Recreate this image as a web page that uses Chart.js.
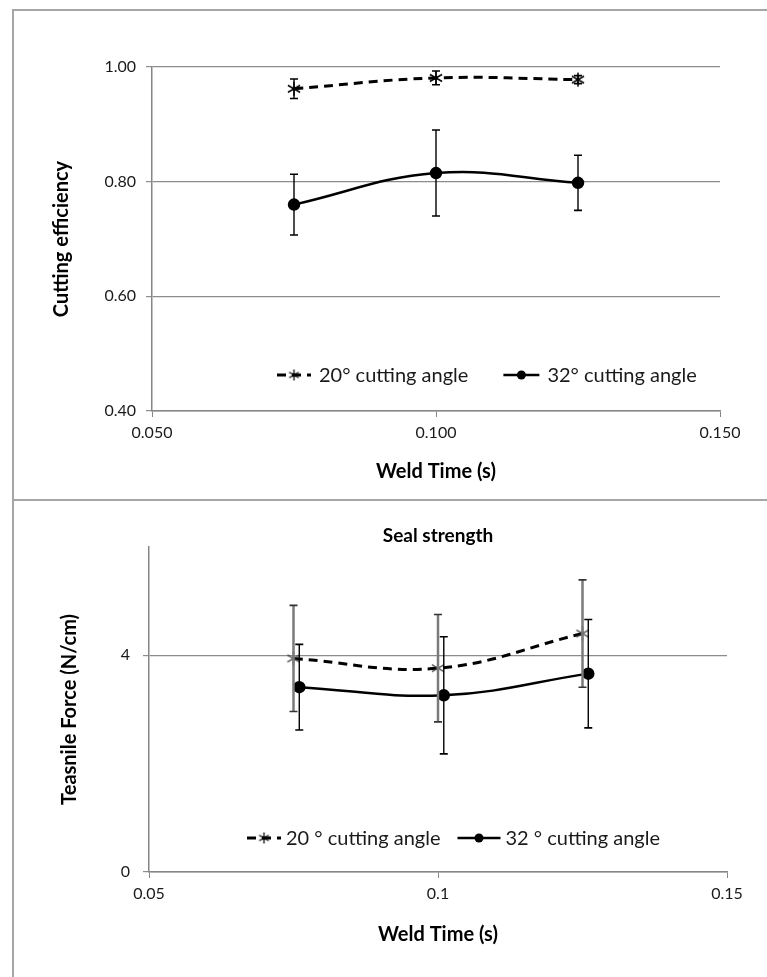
<!DOCTYPE html>
<html>
<head>
<meta charset="utf-8">
<script src="https://cdn.jsdelivr.net/npm/chart.js@4.4.1/dist/chart.umd.min.js"></script>
<style>
  html, body { margin: 0; padding: 0; background: #fff; }
  body { width: 767px; height: 977px; position: relative; overflow: hidden; }
  #frame { position: absolute; left: 12px; top: 9px; width: 755px; height: 968px;
           border-top: 2px solid #a6a6a6; border-left: 2px solid #a6a6a6; box-sizing: border-box; }
  #sep { position: absolute; left: 12px; top: 499px; width: 755px; height: 2px; background: #a6a6a6; }
  .box { position: absolute; left: 14px; width: 753px; }
  #boxTop { top: 11px; height: 488px; }
  #boxBottom { top: 501px; height: 476px; }
</style>
</head>
<body>
<div id="frame"></div>
<div id="sep"></div>
<div class="box" id="boxTop"><canvas id="chartTop"></canvas></div>
<div class="box" id="boxBottom"><canvas id="chartBottom"></canvas></div>
<script>
// ---- cutting efficiency (top chart)
const effTime20 = [0.075, 0.100, 0.125];
const eff20 = [0.962, 0.981, 0.978];
const eff20Err = [0.017, 0.012, 0.007];
const effTime32 = [0.075, 0.100, 0.125];
const eff32 = [0.760, 0.815, 0.798];
const eff32Err = [0.053, 0.075, 0.048];
const effXTicks = [0.05, 0.10, 0.15];
const effXLabels = ['0.050', '0.100', '0.150'];
const effYTicks = [0.4, 0.6, 0.8, 1.0];
const effYLabels = ['0.40', '0.60', '0.80', '1.00'];

// ---- seal strength (bottom chart)
const sealTime20 = [0.075, 0.100, 0.125];
const seal20 = [3.94, 3.76, 4.40];
const seal20Err = [0.98, 0.99, 0.99];
const sealTime32 = [0.076, 0.101, 0.126];
const seal32 = [3.41, 3.26, 3.66];
const seal32Err = [0.79, 1.08, 1.00];
const sealXTicks = [0.05, 0.10, 0.15];
const sealXLabels = ['0.05', '0.1', '0.15'];
const sealYTicks = [0, 4];
const sealYLabels = ['0', '4'];

Chart.defaults.font.family = 'Lato';
Chart.defaults.color = '#1a1a1a';

function pts(xs, ys) {
  return xs.map((x, i) => ({ x: x, y: ys[i] }));
}

// asterisk marker like excel's star
function makeStar(size, lw, color) {
  const c = document.createElement('canvas');
  c.width = size; c.height = size;
  const g = c.getContext('2d');
  const m = size / 2, r = size / 2 - 1;
  g.strokeStyle = color; g.lineWidth = lw;
  g.beginPath();
  g.moveTo(m, m - r); g.lineTo(m, m + r);
  g.moveTo(m - r * 0.87, m - r * 0.5); g.lineTo(m + r * 0.87, m + r * 0.5);
  g.moveTo(m - r * 0.87, m + r * 0.5); g.lineTo(m + r * 0.87, m - r * 0.5);
  g.stroke();
  return c;
}
const starTop = makeStar(16, 1.5, '#000');
const starBottom = makeStar(16, 1.3, '#333');
const starLegend = makeStar(13, 1.3, '#000');

const errorBars = {
  id: 'errorBars',
  afterDatasetsDraw(chart) {
    const ctx = chart.ctx;
    const yScale = chart.scales.y;
    chart.data.datasets.forEach((ds, i) => {
      const meta = chart.getDatasetMeta(i);
      ctx.save();
      meta.data.forEach((p, j) => {
        const v = ds.data[j].y, e = ds.errors[j];
        const t = yScale.getPixelForValue(v + e);
        const b = yScale.getPixelForValue(v - e);
        ctx.strokeStyle = ds.errColor;
        ctx.lineWidth = ds.errWidth;
        ctx.beginPath(); ctx.moveTo(p.x, t); ctx.lineTo(p.x, b); ctx.stroke();
        ctx.strokeStyle = ds.capColor;
        ctx.lineWidth = 1.6;
        ctx.beginPath();
        ctx.moveTo(p.x - 4, t); ctx.lineTo(p.x + 4, t);
        ctx.moveTo(p.x - 4, b); ctx.lineTo(p.x + 4, b);
        ctx.stroke();
      });
      ctx.restore();
    });
  }
};

const innerLegend = {
  id: 'innerLegend',
  afterDraw(chart, args, o) {
    const { ctx, chartArea } = chart;
    let x = chartArea.left + o.offsetX;
    const y = chartArea.bottom - o.offsetY;
    ctx.save();
    ctx.font = '20px Lato';
    ctx.textBaseline = 'middle';
    chart.data.datasets.forEach((ds, i) => {
      const w = o.sample[i];
      ctx.strokeStyle = '#000';
      ctx.lineWidth = ds.borderWidth;
      ctx.setLineDash(ds.borderDash || []);
      ctx.beginPath(); ctx.moveTo(x, y); ctx.lineTo(x + w, y); ctx.stroke();
      ctx.setLineDash([]);
      const cx = x + w / 2;
      if (ds.legendMarker === 'star') {
        ctx.drawImage(starLegend, cx - 6.5, y - 6.5);
      } else {
        ctx.fillStyle = '#000';
        ctx.beginPath(); ctx.arc(cx, y, 4.5, 0, Math.PI * 2); ctx.fill();
      }
      ctx.fillStyle = '#1a1a1a';
      ctx.fillText(ds.label, x + w + o.gap, y + 1);
      x += w + o.gap + ctx.measureText(ds.label).width + o.itemGap;
    });
    ctx.restore();
  }
};

function fixedTicks(values) {
  return (scale) => { scale.ticks = values.map(v => ({ value: v })); };
}

// ---------- top chart
new Chart(document.getElementById('chartTop'), {
  type: 'line',
  data: {
    datasets: [
      {
        label: '20° cutting angle',
        data: pts(effTime20, eff20),
        errors: eff20Err,
        errColor: '#000', capColor: '#000', errWidth: 1.4,
        borderColor: '#000',
        borderWidth: 3,
        borderDash: [9, 6],
        tension: 0.4,
        pointStyle: starTop,
        legendMarker: 'star'
      },
      {
        label: '32° cutting angle',
        data: pts(effTime32, eff32),
        errors: eff32Err,
        errColor: '#000', capColor: '#000', errWidth: 1.4,
        borderColor: '#000',
        backgroundColor: '#000',
        borderWidth: 2.5,
        tension: 0.4,
        pointStyle: 'circle',
        pointRadius: 5,
        legendMarker: 'circle'
      }
    ]
  },
  options: {
    responsive: true,
    maintainAspectRatio: false,
    animation: false,
    layout: { padding: { top: 56, right: 47, left: 0, bottom: 0 } },
    plugins: {
      legend: { display: false },
      tooltip: { enabled: false },
      innerLegend: { offsetX: 125, offsetY: 36, sample: [34, 36], gap: 8, itemGap: 35 }
    },
    scales: {
      x: {
        type: 'linear', min: 0.05, max: 0.15,
        afterBuildTicks: fixedTicks(effXTicks),
        afterFit: (s) => { s.height = 88; },
        grid: { drawOnChartArea: false, color: '#868686', tickLength: 6 },
        border: { color: '#868686', width: 1.5 },
        ticks: { font: { size: 16 }, padding: 6, maxRotation: 0,
                 callback: (v) => effXLabels[effXTicks.indexOf(v)] },
        title: { display: true, text: 'Weld Time (s)', font: { size: 20, weight: 'bold' },
                 color: '#000', padding: { top: 0, bottom: 15 } }
      },
      y: {
        min: 0.4, max: 1.0,
        afterBuildTicks: fixedTicks(effYTicks),
        afterFit: (s) => { s.width = 138; },
        grid: { color: '#8c8c8c', lineWidth: 1.2, tickLength: 6 },
        border: { color: '#868686', width: 1.5 },
        ticks: { font: { size: 16 }, padding: 10,
                 callback: (v) => effYLabels[effYTicks.indexOf(v)] },
        title: { display: true, text: 'Cutting efficiency', font: { size: 20, weight: 'bold' },
                 color: '#000', padding: { top: 36, bottom: 0 } }
      }
    }
  },
  plugins: [errorBars, innerLegend]
});

// ---------- bottom chart
new Chart(document.getElementById('chartBottom'), {
  type: 'line',
  data: {
    datasets: [
      {
        label: '20 ° cutting angle',
        data: pts(sealTime20, seal20),
        errors: seal20Err,
        errColor: '#7a7a7a', capColor: '#333', errWidth: 2.5,
        borderColor: '#000',
        borderWidth: 3,
        borderDash: [9, 6],
        tension: 0.4,
        pointStyle: starBottom,
        legendMarker: 'star'
      },
      {
        label: '32 ° cutting angle',
        data: pts(sealTime32, seal32),
        errors: seal32Err,
        errColor: '#000', capColor: '#000', errWidth: 1.4,
        borderColor: '#000',
        backgroundColor: '#000',
        borderWidth: 2.5,
        tension: 0.4,
        pointStyle: 'circle',
        pointRadius: 5,
        legendMarker: 'circle'
      }
    ]
  },
  options: {
    responsive: true,
    maintainAspectRatio: false,
    animation: false,
    layout: { padding: { top: 0, right: 40, left: 0, bottom: 0 } },
    plugins: {
      legend: { display: false },
      tooltip: { enabled: false },
      title: {
        display: true, text: 'Seal strength', fullSize: false,
        font: { size: 19, weight: 'bold' }, color: '#000',
        padding: { top: 23, bottom: 0 }
      },
      innerLegend: { offsetX: 98, offsetY: 34, sample: [34, 43], gap: 5, itemGap: 17 }
    },
    scales: {
      x: {
        type: 'linear', min: 0.05, max: 0.15,
        afterBuildTicks: fixedTicks(sealXTicks),
        afterFit: (s) => { s.height = 105; },
        grid: { drawOnChartArea: false, color: '#868686', tickLength: 6 },
        border: { color: '#868686', width: 1.5 },
        ticks: { font: { size: 16 }, padding: 6, maxRotation: 0,
                 callback: (v) => sealXLabels[sealXTicks.indexOf(v)] },
        title: { display: true, text: 'Weld Time (s)', font: { size: 20, weight: 'bold' },
                 color: '#000', padding: { top: 0, bottom: 30 } }
      },
      y: {
        min: 0, max: 6,
        afterBuildTicks: fixedTicks(sealYTicks),
        afterFit: (s) => { s.width = 135; },
        grid: { color: '#8c8c8c', lineWidth: 1.2, tickLength: 6 },
        border: { color: '#868686', width: 1.5 },
        ticks: { font: { size: 16 }, padding: 13,
                 callback: (v) => sealYLabels[sealYTicks.indexOf(v)] },
        title: { display: true, text: 'Teasnile Force (N/cm)', font: { size: 20, weight: 'bold' },
                 color: '#000', padding: { top: 44, bottom: 0 } }
      }
    }
  },
  plugins: [errorBars, innerLegend]
});
</script>
</body>
</html>
